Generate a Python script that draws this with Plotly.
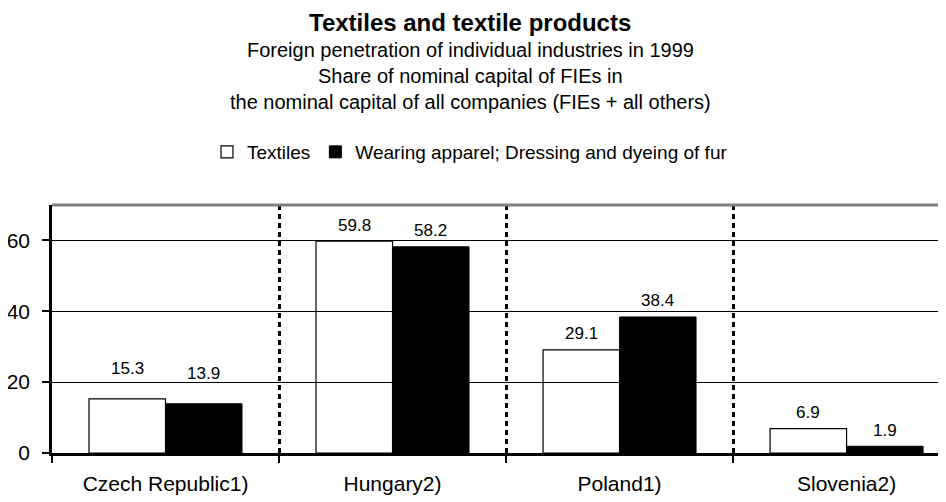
import plotly.graph_objects as go

countries = ['Czech Republic1)', 'Hungary2)', 'Poland1)', 'Slovenia2)']
textiles = [15.3, 59.8, 29.1, 6.9]
apparel = [13.9, 58.2, 38.4, 1.9]

title = 'Textiles and textile products'
subtitle = ['Foreign penetration of individual industries in 1999',
            'Share of nominal capital of FIEs in',
            'the nominal capital of all companies (FIEs + all others)']

FONT = 'Liberation Sans, Arial, sans-serif'

# the page body adds an 8px margin, so the figure is a bit smaller than the window
W, H = 938, 494
ML, MT, MB = 44, 197, 49
plot_h = H - MT - MB
cx = (470 - 8 - ML) / (W - ML)   # paper x used for the centred texts

# extra lift for the Czech labels (they sit higher in the original)
label_lift = {'Czech Republic1)': 30}

fig = go.Figure()

# white bars are see-through so the gridlines show through them
fig.add_trace(go.Bar(x=countries, y=textiles, name='Textiles',
                     marker=dict(color='rgba(255,255,255,0)', line=dict(color='black', width=1.2))))
fig.add_trace(go.Bar(x=countries, y=apparel, name='Wearing apparel; Dressing and dyeing of fur',
                     marker=dict(color='black', line=dict(color='black', width=1))))

# value labels above bars
for i, c in enumerate(countries):
    for v, off in [(textiles[i], -0.1685), (apparel[i], 0.1685)]:
        fig.add_annotation(x=i + off, y=v, xref='x', yref='y', text=f'{v}', showarrow=False,
                           yshift=label_lift.get(c, 16),
                           font=dict(size=17, color='black', family=FONT))

# title block, placed in pixels above the plot top
fig.add_annotation(x=cx, y=1, xref='paper', yref='paper', yanchor='top', showarrow=False,
                   text=f'<b>{title}</b>', yshift=MT, borderpad=0,
                   font=dict(size=24, color='black', family=FONT))
for line, ypx in zip(subtitle, [50, 76, 102]):
    fig.add_annotation(x=cx, y=1, xref='paper', yref='paper', yanchor='middle', showarrow=False,
                       text=line, yshift=MT - (ypx - 8),
                       font=dict(size=20, color='black', family=FONT))

# gray top border
fig.add_shape(type='line', xref='paper', yref='paper', x0=0, x1=1, y0=1, y1=1,
              line=dict(color='#808080', width=3))

fig.update_layout(
    width=W, height=H,
    margin=dict(l=ML, r=0, t=MT, b=MB, autoexpand=False),
    paper_bgcolor='white', plot_bgcolor='white',
    font=dict(family=FONT, color='black'),
    barmode='group', bargap=0.326, bargroupgap=0,
    showlegend=True,
    legend=dict(orientation='h', x=cx, xanchor='center', y=1 + (MT - (152 - 8)) / plot_h, yanchor='middle',
                font=dict(size=19, color='black'), itemwidth=30, traceorder='normal'),
    xaxis=dict(range=[-0.5, 3.438], showline=True, linecolor='black', linewidth=2.5,
               tickson='boundaries', ticks='outside', ticklen=7, tickcolor='black', tickwidth=1.5,
               showgrid=True, gridcolor='black', gridwidth=3, griddash='5px,4px',
               tickfont=dict(size=21), ticklabelstandoff=10, fixedrange=True),
    yaxis=dict(range=[0, 70], tickvals=[0, 20, 40, 60], showline=True, linecolor='black', linewidth=2.5,
               ticks='outside', ticklen=7, tickcolor='black', tickwidth=1.5,
               showgrid=True, gridcolor='black', gridwidth=1, zeroline=False,
               tickfont=dict(size=21), ticklabelstandoff=8),
)

fig.write_html('out.html')
